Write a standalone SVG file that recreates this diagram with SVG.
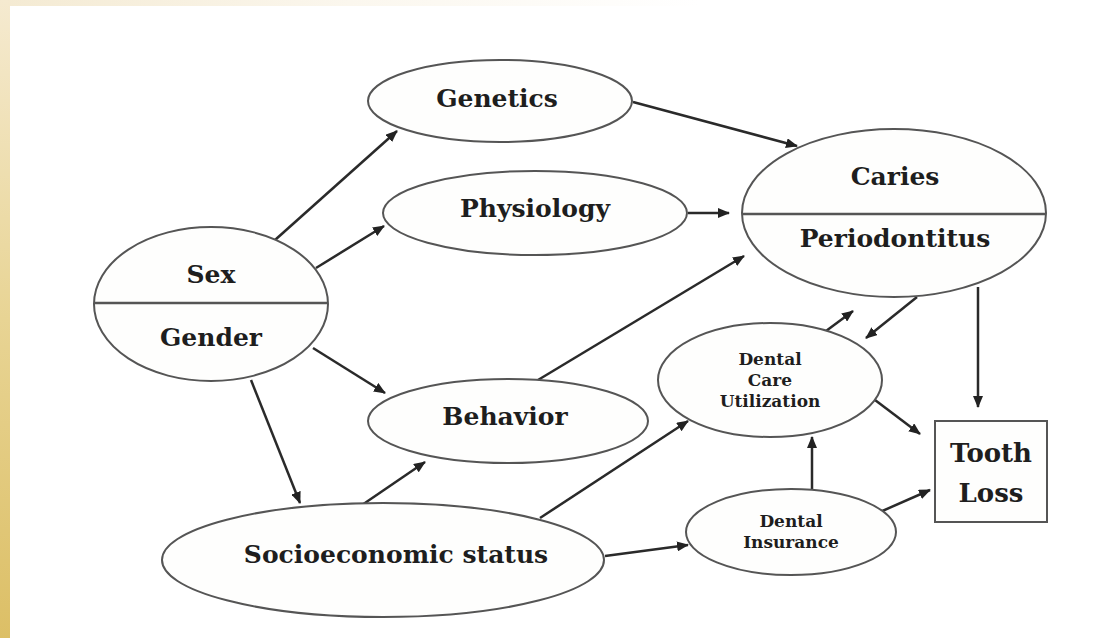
<svg xmlns="http://www.w3.org/2000/svg" width="1093" height="638" viewBox="0 0 1093 638">
<defs>
<linearGradient id="lstrip" x1="0" y1="0" x2="0" y2="1">
<stop offset="0" stop-color="#f5ead0"/>
<stop offset="0.5" stop-color="#e8d494"/>
<stop offset="1" stop-color="#dcbf66"/>
</linearGradient>
<linearGradient id="tstrip" x1="0" y1="0" x2="1" y2="0">
<stop offset="0" stop-color="#f4ead2"/>
<stop offset="0.5" stop-color="#fbf7ee"/>
<stop offset="1" stop-color="#ffffff"/>
</linearGradient>
<marker id="ah" markerUnits="userSpaceOnUse" markerWidth="12" markerHeight="10" refX="11" refY="5" orient="auto">
<path d="M0,0 L12,5 L0,10 Z" fill="#222"/>
</marker>
<style>
.node{fill:#fefefd;stroke:#555;stroke-width:2}
.div{stroke:#555;stroke-width:2.5}
.lbl{font-family:"DejaVu Serif","Liberation Serif",serif;font-weight:bold;fill:#1e1e1e;text-anchor:middle}
.big{font-size:25px}
.sm{font-size:17px}
.edge{stroke:#2a2a2a;stroke-width:2.5;fill:none;marker-end:url(#ah)}
</style>
</defs>
<rect x="0" y="0" width="1093" height="638" fill="#ffffff"/>
<rect x="0" y="0" width="700" height="6" fill="url(#tstrip)"/>
<rect x="0" y="0" width="10" height="638" fill="url(#lstrip)"/>

<g id="connectors">
<line class="edge" x1="275" y1="240" x2="397" y2="131"/>
<line class="edge" x1="316" y1="268" x2="384" y2="226"/>
<line class="edge" x1="313" y1="348" x2="385" y2="393"/>
<line class="edge" x1="251" y1="380" x2="300" y2="503"/>
<line class="edge" x1="362" y1="505" x2="425" y2="462"/>
<line class="edge" x1="538" y1="380" x2="744" y2="256"/>
<line class="edge" x1="688" y1="213" x2="729" y2="213"/>
<line class="edge" x1="633" y1="102" x2="797" y2="146"/>
<line class="edge" x1="540" y1="518" x2="688" y2="421"/>
<line class="edge" x1="605" y1="556" x2="688" y2="545"/>
<line class="edge" x1="826" y1="331" x2="853" y2="311"/>
<line class="edge" x1="917" y1="297" x2="866" y2="338"/>
<line class="edge" x1="978" y1="287" x2="978" y2="407"/>
<line class="edge" x1="875" y1="400" x2="920" y2="434"/>
<line class="edge" x1="812" y1="490" x2="812" y2="437"/>
<line class="edge" x1="880" y1="512" x2="930" y2="490"/>
</g>

<g id="genetics">
<ellipse class="node" cx="500" cy="101" rx="132" ry="41"/>
<text class="lbl big" x="497" y="107">Genetics</text>
</g>
<g id="physiology">
<ellipse class="node" cx="535" cy="213" rx="152" ry="42"/>
<text class="lbl big" x="535" y="217">Physiology</text>
</g>
<g id="caries-periodontitus">
<ellipse class="node" cx="894" cy="213" rx="152" ry="84"/>
<line class="div" x1="742" y1="214" x2="1046" y2="214"/>
<text class="lbl big" x="895" y="185">Caries</text>
<text class="lbl big" x="895" y="247">Periodontitus</text>
</g>
<g id="sex-gender">
<ellipse class="node" cx="211" cy="304" rx="117" ry="77"/>
<line class="div" x1="94" y1="303" x2="328" y2="303"/>
<text class="lbl big" x="211" y="283">Sex</text>
<text class="lbl big" x="211" y="346">Gender</text>
</g>
<g id="behavior">
<ellipse class="node" cx="508" cy="421" rx="140" ry="42"/>
<text class="lbl big" x="505" y="425">Behavior</text>
</g>
<g id="socioeconomic-status">
<ellipse class="node" cx="383" cy="560" rx="221" ry="57"/>
<text class="lbl big" x="396" y="563">Socioeconomic status</text>
</g>
<g id="dental-care-utilization">
<ellipse class="node" cx="770" cy="380" rx="112" ry="57"/>
<text class="lbl sm" x="770" y="365">Dental</text>
<text class="lbl sm" x="770" y="386">Care</text>
<text class="lbl sm" x="770" y="407">Utilization</text>
</g>
<g id="dental-insurance">
<ellipse class="node" cx="791" cy="532" rx="105" ry="43"/>
<text class="lbl sm" x="791" y="527">Dental</text>
<text class="lbl sm" x="791" y="548">Insurance</text>
</g>
<g id="tooth-loss">
<rect class="node" x="935" y="421" width="112" height="101"/>
<text class="lbl" x="991" y="462" style="font-size:26px">Tooth</text>
<text class="lbl" x="991" y="502" style="font-size:26px">Loss</text>
</g>
</svg>
